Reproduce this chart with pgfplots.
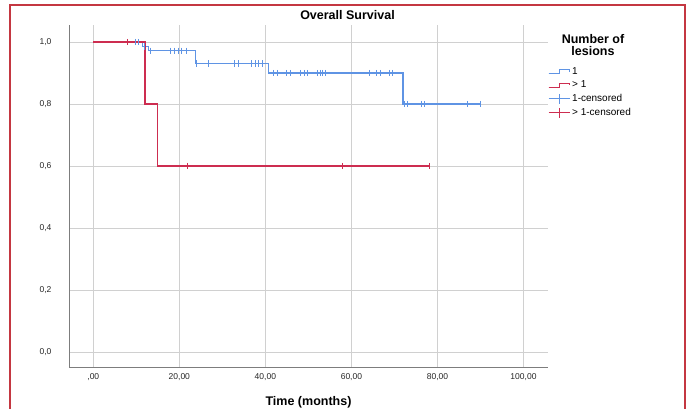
\documentclass[border=0pt]{standalone}
\usepackage{pgfplots}
\pgfplotsset{compat=1.18}
\usepackage{fontspec}
\setmainfont{Liberation Sans}
\definecolor{kmblue}{RGB}{95,148,228}
\definecolor{kmred}{RGB}{205,45,80}
\definecolor{framered}{RGB}{196,55,65}
\definecolor{gridgray}{RGB}{208,208,208}
\definecolor{axgray}{RGB}{125,125,125}
\begin{document}
\begin{tikzpicture}
\path[use as bounding box] (0pt,0pt) rectangle (695pt,408pt);
\draw[framered, line width=1.6pt] (10pt,-20pt) -- (10pt,403pt) -- (685pt,403pt) -- (685pt,-20pt);
\node[font=\bfseries\fontsize{12.5}{14}\selectfont] at (347.5pt,393pt) {Overall Survival};
\node[font=\bfseries\fontsize{12.5}{14}\selectfont, align=center] at (593pt,363pt) {Number of\\[-2pt]lesions};
\begin{axis}[
  at={(69pt,41pt)}, anchor=south west,
  scale only axis, width=479pt, height=342pt,
  xmin=-5.65, xmax=105.7, ymin=-0.048, ymax=1.055,
  axis x line*=bottom, axis y line*=left,
  axis line style={-, axgray, line width=1pt},
  xtick={0,20,40,60,80,100},
  xticklabels={{,00},{20,00},{40,00},{60,00},{80,00},{100,00}},
  ytick={0,0.2,0.4,0.6,0.8,1},
  yticklabels={{0,0},{0,2},{0,4},{0,6},{0,8},{1,0}},
  major tick length=0pt,
  grid=major,
  major grid style={gridgray, line width=1pt},
  tick label style={font=\fontsize{8.5}{10}\selectfont, text=black!85},
  yticklabel style={xshift=-14pt},
  xticklabel style={yshift=-3pt},
  xlabel={Time (months)},
  xlabel style={font=\bfseries\fontsize{12.5}{14}\selectfont, at={(axis description cs:0.5,0)}, anchor=center, yshift=-35pt},
  legend style={at={(axis description cs:1.0,0.885)}, anchor=north west, draw=none, fill=none,
    font=\fontsize{10}{11}\selectfont, row sep=0pt, inner sep=0pt,
    nodes={inner xsep=2pt, inner ysep=2.6pt}},
  legend cell align=left,
]
% step lines
\addplot[kmblue, line width=1.3pt, const plot, forget plot] coordinates {
 (0,1) (11.5,0.986) (12.8,0.972) (23.7,0.931) (40.8,0.900) (72.0,0.800) (90.1,0.800)};
\addplot[kmred, line width=1.3pt, const plot, forget plot] coordinates {
 (0,1) (12.0,0.8) (15.0,0.6) (78.1,0.6)};
% censored marks
\addplot[kmblue, only marks, mark=|, mark size=3.2pt, mark options={line width=1pt}, forget plot] coordinates {
 (9.9,1) (10.6,1) (12.0,0.986)
 (13.3,0.972) (18.0,0.972) (18.8,0.972) (19.8,0.972) (20.6,0.972) (21.6,0.972)
 (24.0,0.931) (26.8,0.931) (32.8,0.931) (33.8,0.931) (36.8,0.931) (37.6,0.931) (38.4,0.931) (39.3,0.931)
 (42.0,0.9) (42.9,0.9) (45.0,0.9) (45.8,0.9) (48.1,0.9) (49.0,0.9) (49.9,0.9) (52.1,0.9) (52.7,0.9) (53.3,0.9) (53.9,0.9)
 (64.1,0.9) (65.9,0.9) (66.7,0.9) (68.8,0.9) (69.6,0.9)
 (72.3,0.8) (73.0,0.8) (76.2,0.8) (76.9,0.8) (87.1,0.8) (90.1,0.8)};
\addplot[kmred, only marks, mark=|, mark size=3.2pt, mark options={line width=1pt}, forget plot] coordinates {
 (7.9,1) (21.9,0.6) (57.9,0.6) (78.1,0.6)};
% legend
\addlegendimage{legend image code/.code={\path (0pt,0pt); \draw[draw=kmblue, line width=1pt] (0pt,-2.5pt) -- (11pt,-2.5pt); \draw[draw=kmblue, line width=1pt] (0pt,-2.5pt) -- (11pt,-2.5pt) -- (11pt,1.8pt) -- (21pt,1.8pt) -- (21pt,-0.5pt);}}
\addlegendentry{1}
\addlegendimage{legend image code/.code={\path (0pt,0pt); \draw[draw=kmred, line width=1pt] (0pt,-2.5pt) -- (11pt,-2.5pt); \draw[draw=kmred, line width=1pt] (0pt,-2.5pt) -- (11pt,-2.5pt) -- (11pt,1.8pt) -- (21pt,1.8pt) -- (21pt,-0.5pt);}}
\addlegendentry{> 1}
\addlegendimage{legend image code/.code={\draw[draw=kmblue, line width=1pt] (0pt,0pt) -- (21pt,0pt); \draw[draw=kmblue, line width=1pt] (11pt,-5pt) -- (11pt,5pt);}}
\addlegendentry{1-censored}
\addlegendimage{legend image code/.code={\draw[draw=kmred, line width=1pt] (0pt,0pt) -- (21pt,0pt); \draw[draw=kmred, line width=1pt] (11pt,-5pt) -- (11pt,5pt);}}
\addlegendentry{> 1-censored}
\end{axis}
\end{tikzpicture}
\end{document}
